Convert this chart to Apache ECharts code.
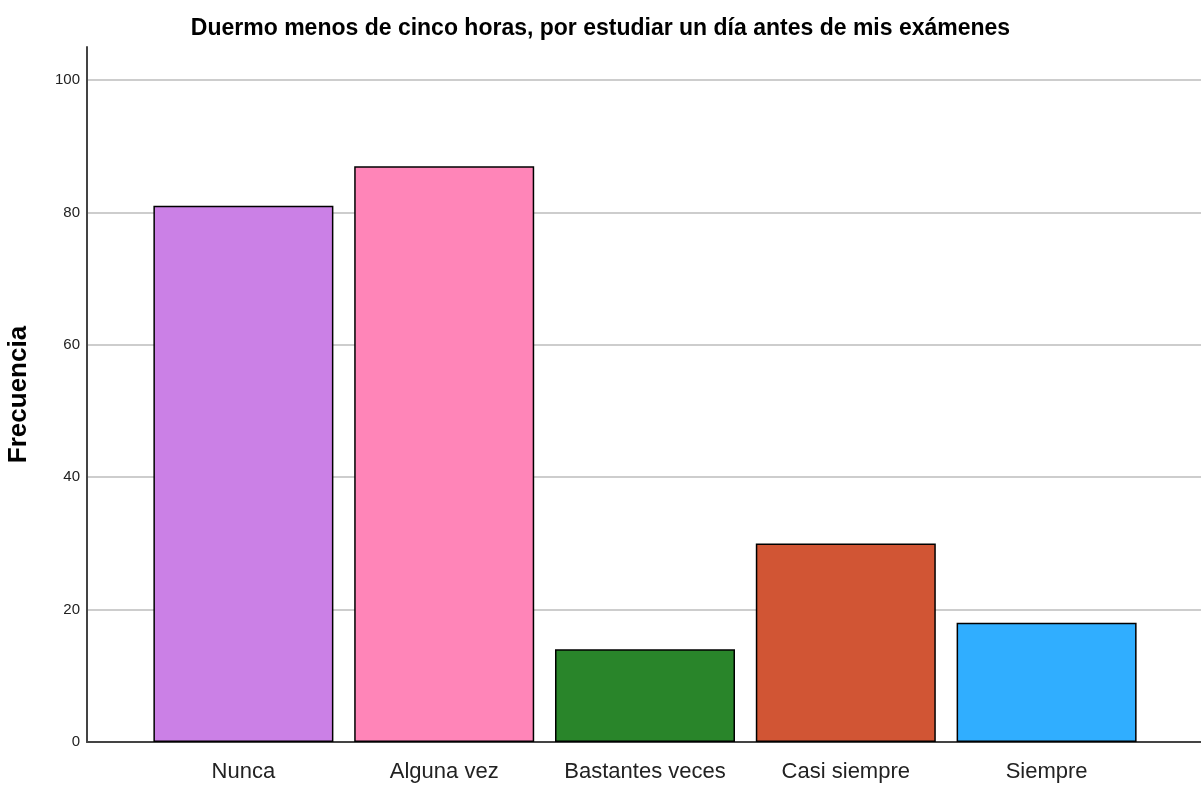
<!DOCTYPE html>
<html>
<head>
<meta charset="utf-8">
<script src="https://cdn.jsdelivr.net/npm/echarts@6/dist/echarts.min.js"></script>
<style>
  html, body { margin: 0; padding: 0; background: #fff; }
  #chart { width: 1201px; height: 785px; }
</style>
</head>
<body>
<div id="chart"></div>
<script>
// datos del gráfico
const categories = ['Nunca', 'Alguna vez', 'Bastantes veces', 'Casi siempre', 'Siempre'];
const frecuencias = [81, 87, 14, 30, 18];
const barColors = ['#cb80e6', '#ff85b8', '#29852a', '#d15534', '#30aeff'];
const yTicks = [0, 20, 40, 60, 80, 100];

const fuente = '"Liberation Sans", Arial, sans-serif';

const chart = echarts.init(document.getElementById('chart'));

const option = {
  animation: false,
  title: {
    text: 'Duermo menos de cinco horas, por estudiar un día antes de mis exámenes',
    left: 'center',
    top: 12,
    textStyle: { fontFamily: fuente, fontWeight: 'bold', fontSize: 23, color: '#000' }
  },
  grid: [
    // marco de ejes y líneas de cuadrícula
    { left: 87, right: 0, top: 47, bottom: 43, outerBoundsMode: 'none' },
    // barras
    { left: 143, right: 54, top: 47, bottom: 43, outerBoundsMode: 'none' }
  ],
  xAxis: [
    {
      gridIndex: 0,
      type: 'value',
      min: 0,
      max: 1,
      axisLine: { show: true, lineStyle: { color: '#444', width: 2 } },
      axisTick: { show: false },
      axisLabel: { show: false },
      splitLine: { show: false }
    },
    {
      gridIndex: 1,
      type: 'category',
      data: categories,
      axisLine: { show: false },
      axisTick: { show: false },
      axisLabel: { interval: 0, fontFamily: fuente, fontSize: 22, color: '#222', margin: 19 }
    }
  ],
  yAxis: [
    {
      gridIndex: 0,
      type: 'value',
      min: 0,
      max: 105,
      interval: 20,
      name: 'Frecuencia',
      nameLocation: 'middle',
      nameGap: 55,
      nameTextStyle: { fontFamily: fuente, fontWeight: 'bold', fontSize: 26, color: '#000' },
      axisLine: { show: true, lineStyle: { color: '#444', width: 2 } },
      axisTick: { show: false },
      axisLabel: {
        fontFamily: fuente,
        fontSize: 15,
        color: '#222',
        margin: 7,
        formatter: v => (yTicks.includes(v) ? String(v) : '')
      },
      splitLine: { show: true, showMinLine: false, showMaxLine: false, lineStyle: { color: '#bdbdbd', width: 1.5 } }
    },
    {
      gridIndex: 1,
      type: 'value',
      min: 0,
      max: 105,
      show: false
    }
  ],
  series: [
    {
      type: 'bar',
      xAxisIndex: 1,
      yAxisIndex: 1,
      barWidth: 180,
      data: frecuencias.map((v, i) => ({
        value: v,
        itemStyle: { color: barColors[i] }
      })),
      itemStyle: { borderColor: '#000', borderWidth: 1.5 }
    }
  ]
};

chart.setOption(option);
</script>
</body>
</html>
